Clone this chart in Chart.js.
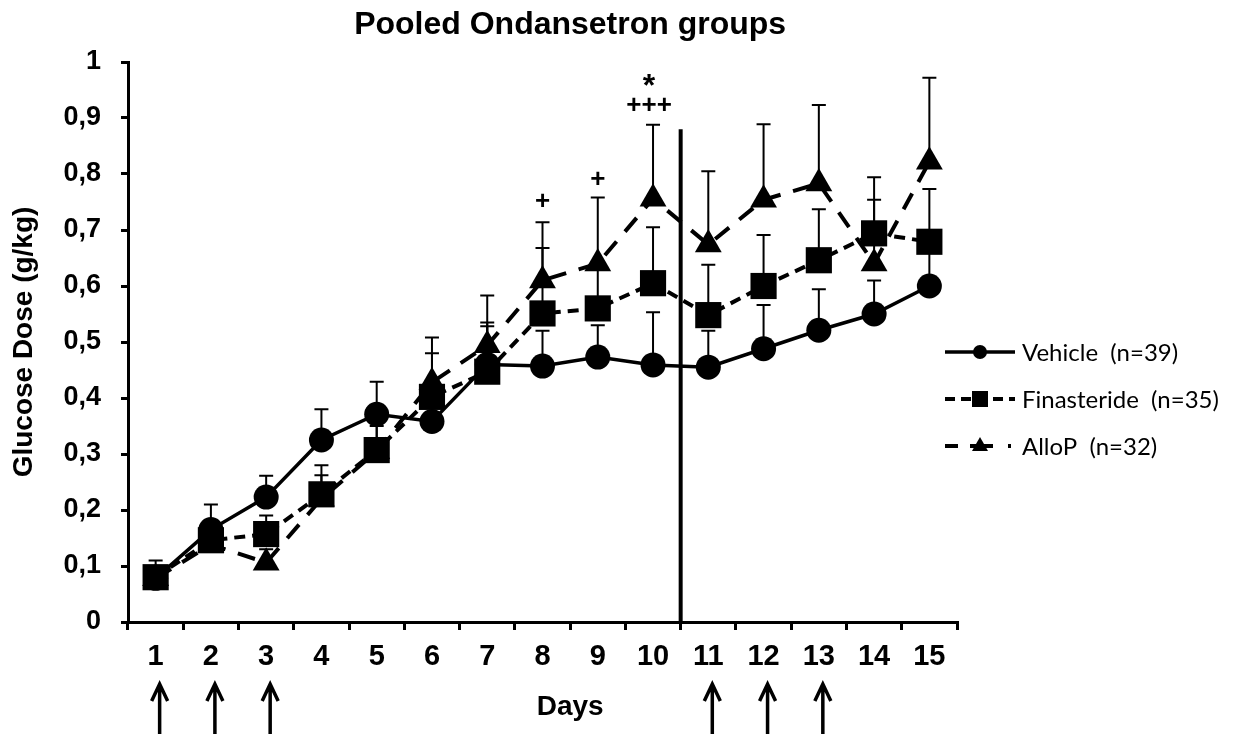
<!DOCTYPE html>
<html>
<head>
<meta charset="utf-8">
<script src="https://cdn.jsdelivr.net/npm/chart.js@4.4.1/dist/chart.umd.min.js"></script>
<style>
  html, body { margin: 0; padding: 0; background: #fff; }
  canvas { display: block; }
</style>
</head>
<body>
<canvas id="c" width="1246" height="742"></canvas>
<script>
// ---------- data ----------
const days = ['1','2','3','4','5','6','7','8','9','10','11','12','13','14','15'];
const yTickLabels = ['0','0,1','0,2','0,3','0,4','0,5','0,6','0,7','0,8','0,9','1'];

const vehicle     = [0.078,0.165,0.223,0.325,0.371,0.358,0.460,0.457,0.473,0.459,0.455,0.488,0.521,0.550,0.600];
const vehicleTop  = [0.110,0.210,0.261,0.380,0.429,0.420,0.528,0.520,0.530,0.553,0.520,0.566,0.594,0.610,0.660];

const finasteride    = [0.080,0.146,0.157,0.228,0.307,0.402,0.447,0.551,0.560,0.605,0.548,0.600,0.646,0.694,0.679];
const finasterideTop = [0.100,0.170,0.190,0.262,0.350,0.480,0.535,0.668,0.630,0.705,0.638,0.691,0.737,0.754,0.773];

const allop    = [0.078,0.138,0.106,0.220,0.305,0.428,0.494,0.610,0.640,0.756,0.674,0.754,0.783,0.640,0.822];
const allopTop = [0.100,0.170,0.130,0.280,0.360,0.508,0.583,0.714,0.758,0.888,0.805,0.889,0.923,0.794,0.972];

const legendLabels = ['Vehicle  (n=39)', 'Finasteride  (n=35)', 'AlloP  (n=32)'];

const markDays   = ['8','9','10','10'];
const markValues = [0.750,0.790,0.921,0.962];
const markTexts  = ['+','+','+++','*'];

const arrowDays = ['1','2','3','11','12','13'];
const dividerAfter = '10';
const dividerTop = 0.88;

const chartTitle = 'Pooled Ondansetron groups';
const xTitle = 'Days';
const yTitle = 'Glucose Dose (g/kg)';

// ---------- styles ----------
const FONT = '"Liberation Sans", Arial, sans-serif';
const LEGEND_FONT = 'Lato, "Noto Sans", sans-serif';
const tops = [vehicleTop, finasterideTop, allopTop];

const extras = {
  id: 'extras',
  beforeDatasetsDraw(chart) {
    const ctx = chart.ctx;
    const x = chart.scales.x, y = chart.scales.y;
    ctx.save();
    // error bars (upper)
    ctx.strokeStyle = '#000';
    ctx.lineWidth = 2;
    chart.data.datasets.forEach((ds, di) => {
      const meta = chart.getDatasetMeta(di);
      meta.data.forEach((pt, i) => {
        const yt = y.getPixelForValue(tops[di][i]);
        ctx.beginPath();
        ctx.moveTo(pt.x, pt.y);
        ctx.lineTo(pt.x, yt);
        ctx.moveTo(pt.x - 7, yt);
        ctx.lineTo(pt.x + 7, yt);
        ctx.stroke();
      });
    });
    // divider line
    const di = days.indexOf(dividerAfter);
    const xv = (x.getPixelForValue(di) + x.getPixelForValue(di + 1)) / 2;
    ctx.lineWidth = 4;
    ctx.beginPath();
    ctx.moveTo(xv, y.getPixelForValue(0));
    ctx.lineTo(xv, y.getPixelForValue(dividerTop));
    ctx.stroke();
    ctx.restore();
  },
  afterDraw(chart) {
    const ctx = chart.ctx;
    const x = chart.scales.x, y = chart.scales.y;
    const area = chart.chartArea;
    ctx.save();
    ctx.fillStyle = '#000';
    ctx.strokeStyle = '#000';
    ctx.textAlign = 'center';
    ctx.textBaseline = 'middle';
    // chart title
    ctx.font = 'bold 32px ' + FONT;
    const i8 = days.indexOf('8');
    const midX = (x.getPixelForValue(i8) + x.getPixelForValue(i8 + 1)) / 2;
    ctx.fillText(chartTitle, midX, 25);
    // significance marks
    markTexts.forEach((t, i) => {
      const px = x.getPixelForValue(days.indexOf(markDays[i]));
      const py = y.getPixelForValue(markValues[i]);
      ctx.font = (t === '*' ? 'bold 32px ' : 'bold 26px ') + FONT;
      ctx.fillText(t, px - (t === '+' ? 0 : 4), py + (t === '*' ? 4 : 0));
    });
    // x title
    ctx.font = 'bold 28px ' + FONT;
    ctx.fillText(xTitle, midX, area.bottom + 85);
    // arrows
    ctx.lineWidth = 3.5;
    arrowDays.forEach(d => {
      const px = x.getPixelForValue(days.indexOf(d)) + 4;
      const tip = area.bottom + 62, base = area.bottom + 112;
      ctx.beginPath();
      ctx.moveTo(px, base);
      ctx.lineTo(px, tip + 2);
      ctx.moveTo(px - 8, tip + 17);
      ctx.lineTo(px, tip);
      ctx.lineTo(px + 8, tip + 17);
      ctx.stroke();
    });
    // legend
    const lx0 = 945, lx1 = 1015, lxm = 980, tx0 = 1022;
    const ly = [352, 399, 446];
    ctx.font = '24px ' + LEGEND_FONT;
    ctx.textAlign = 'left';
    // vehicle
    ctx.lineWidth = 3.5;
    ctx.setLineDash([]);
    ctx.beginPath(); ctx.moveTo(lx0, ly[0]); ctx.lineTo(lx1, ly[0]); ctx.stroke();
    ctx.beginPath(); ctx.arc(lxm, ly[0], 7, 0, Math.PI * 2); ctx.fill();
    // finasteride
    ctx.lineWidth = 4;
    ctx.setLineDash([10, 6]);
    ctx.beginPath(); ctx.moveTo(lx0, ly[1]); ctx.lineTo(lx1, ly[1]); ctx.stroke();
    ctx.setLineDash([]);
    ctx.fillRect(lxm - 8, ly[1] - 8, 16, 16);
    // allop
    ctx.setLineDash([13, 12, 23, 15, 3, 200]);
    ctx.beginPath(); ctx.moveTo(lx0, ly[2]); ctx.lineTo(lx1, ly[2]); ctx.stroke();
    ctx.setLineDash([]);
    ctx.beginPath();
    ctx.moveTo(lxm, ly[2] - 9);
    ctx.lineTo(lxm + 8, ly[2] + 5);
    ctx.lineTo(lxm - 8, ly[2] + 5);
    ctx.closePath(); ctx.fill();
    legendLabels.forEach((t, i) => ctx.fillText(t, tx0, ly[i] + 1));
    ctx.restore();
  }
};

new Chart(document.getElementById('c'), {
  type: 'line',
  data: {
    labels: days,
    datasets: [
      { label: legendLabels[0], data: vehicle, order: 3,
        borderColor: '#000', backgroundColor: '#000', borderWidth: 3.5,
        pointStyle: 'circle', pointRadius: 12.5, pointBorderWidth: 0,
        pointBackgroundColor: '#000', tension: 0, clip: false },
      { label: legendLabels[1], data: finasteride, order: 2,
        borderColor: '#000', backgroundColor: '#000', borderWidth: 4, borderDash: [11, 7],
        pointStyle: 'rect', pointRadius: 18.5, pointBorderWidth: 0,
        pointBackgroundColor: '#000', tension: 0, clip: false },
      { label: legendLabels[2], data: allop, order: 1,
        borderColor: '#000', backgroundColor: '#000', borderWidth: 4, borderDash: [18, 13],
        pointStyle: 'triangle', pointRadius: 15.5, pointBorderWidth: 0,
        pointBackgroundColor: '#000', tension: 0, clip: false }
    ]
  },
  options: {
    responsive: false,
    animation: false,
    devicePixelRatio: 1,
    events: [],
    layout: { padding: { left: 0, right: 289, top: 62, bottom: 0 } },
    plugins: {
      legend: { display: false },
      tooltip: { enabled: false },
      title: { display: false }
    },
    scales: {
      x: {
        type: 'category', offset: true,
        grid: { display: true, offset: true, drawOnChartArea: false, drawTicks: true,
                tickLength: 8, color: '#000', lineWidth: 3 },
        border: { display: true, color: '#000', width: 3 },
        ticks: { color: '#000', font: { family: FONT, size: 29, weight: 'bold' },
                 padding: 10, maxRotation: 0, autoSkip: false },
        afterFit(s) { s.height = 120; }
      },
      y: {
        min: 0, max: 1,
        grid: { display: true, drawOnChartArea: false, drawTicks: true,
                tickLength: 7, color: '#000', lineWidth: 3 },
        border: { display: true, color: '#000', width: 3 },
        ticks: { stepSize: 0.1, color: '#000', padding: 20,
                 font: { family: FONT, size: 27, weight: 'bold' },
                 callback: (v, i) => yTickLabels[i] },
        title: { display: true, text: yTitle, color: '#000',
                 font: { family: FONT, size: 28, weight: 'bold', lineHeight: 1.2 },
                 padding: { top: 7, bottom: 0 } },
        afterFit(s) { s.width = 128; }
      }
    }
  },
  plugins: [extras]
});
</script>
</body>
</html>
